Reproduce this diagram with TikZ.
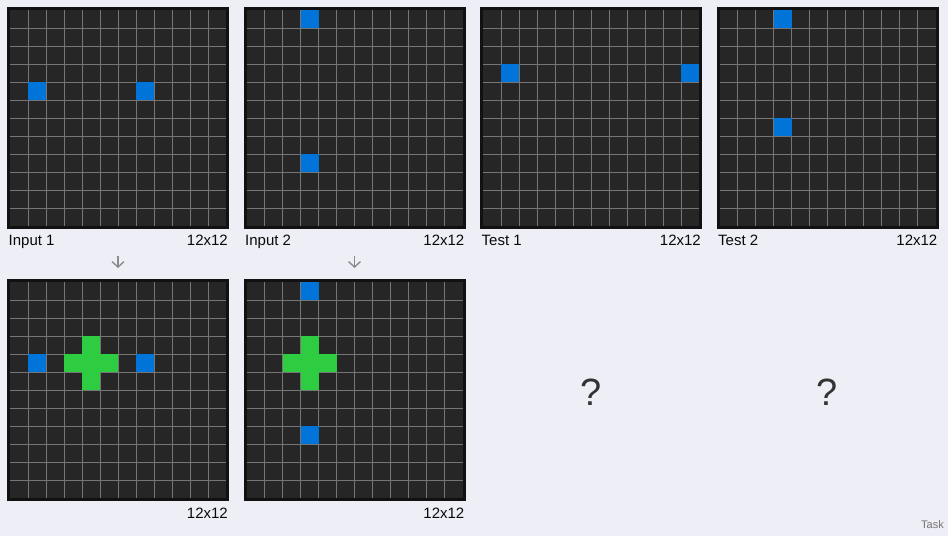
\documentclass[tikz,border=0pt]{standalone}
\usepackage{fontspec}
\setmainfont{Liberation Sans}
\usepackage{tikz}
\usetikzlibrary{arrows.meta}

\definecolor{pagebg}{RGB}{238,238,246}
\definecolor{cellbg}{RGB}{38,38,38}
\definecolor{gridrim}{RGB}{17,17,17}
\definecolor{gridln}{RGB}{118,118,118}
\definecolor{arcblue}{RGB}{0,116,217}
\definecolor{arcgreen}{RGB}{46,204,64}
\definecolor{txtc}{RGB}{10,10,10}

% one 12x12 board: #1 name, #2 centre
\newcommand\arcgrid[2]{%
  \node[gridbox] (#1) at (#2) {};
  \foreach \k in {1,...,11}{
    \draw[gridline] ([shift={(-108+18*\k,-108)}]#1.center) -- ([shift={(-108+18*\k,108)}]#1.center);
    \draw[gridline] ([shift={(-108,-108+18*\k)}]#1.center) -- ([shift={(108,-108+18*\k)}]#1.center);
  }
}
% one coloured cell: #1 board, #2 row, #3 column, #4 colour
\newcommand\arccell[4]{%
  \fill[#4] ([shift={(-108+18*#3,-108+18*#2)}]#1.center) rectangle ++(18,18);
}

\begin{document}
\begin{tikzpicture}[x=1pt,y=-1pt,
    gridbox/.style={draw=gridrim,fill=cellbg,line width=3pt,minimum size=219pt,inner sep=0pt},
    gridline/.style={draw=gridln,line width=0.9pt},
    lbl/.style={text=txtc,inner sep=0pt,font=\fontsize{15}{18}\selectfont},
    qmark/.style={text=black!80,inner sep=0pt,font=\fontsize{38}{40}\selectfont},
    flowarrow/.style={draw=black!45,line width=1.4pt,-{Straight Barb[length=5.5pt,width=12pt]},shorten <=27pt,shorten >=11pt}]
  \fill[pagebg] (0,0) rectangle (948,536);
  \useasboundingbox (0,0) rectangle (948,536);

  % boards
  \arcgrid{in1}{118,118}
  \arcgrid{in2}{354.5,118}
  \arcgrid{tst1}{591,118}
  \arcgrid{tst2}{827.5,118}
  \arcgrid{out1}{118,390}
  \arcgrid{out2}{354.5,390}

  % cells
  \arccell{in1}{4}{1}{arcblue} \arccell{in1}{4}{7}{arcblue}
  \arccell{out1}{4}{1}{arcblue} \arccell{out1}{4}{7}{arcblue}
  \arccell{out1}{3}{4}{arcgreen} \arccell{out1}{4}{3}{arcgreen}
  \arccell{out1}{4}{4}{arcgreen} \arccell{out1}{4}{5}{arcgreen}
  \arccell{out1}{5}{4}{arcgreen}
  \arccell{in2}{0}{3}{arcblue} \arccell{in2}{8}{3}{arcblue}
  \arccell{out2}{0}{3}{arcblue} \arccell{out2}{8}{3}{arcblue}
  \arccell{out2}{3}{3}{arcgreen} \arccell{out2}{4}{2}{arcgreen}
  \arccell{out2}{4}{3}{arcgreen} \arccell{out2}{4}{4}{arcgreen}
  \arccell{out2}{5}{3}{arcgreen}
  \arccell{tst1}{3}{1}{arcblue} \arccell{tst1}{3}{11}{arcblue}
  \arccell{tst2}{0}{3}{arcblue} \arccell{tst2}{6}{3}{arcblue}

  % labels
  \node[lbl,anchor=base west] (in1name) at ([shift={(1.5,16)}]in1.south west) {Input 1};
  \node[lbl,anchor=base east] (in1size) at ([shift={(-1,16)}]in1.south east) {12x12};
  \node[lbl,anchor=base west] (in2name) at ([shift={(1.5,16)}]in2.south west) {Input 2};
  \node[lbl,anchor=base east] (in2size) at ([shift={(-1,16)}]in2.south east) {12x12};
  \node[lbl,anchor=base west] (tst1name) at ([shift={(1.5,16)}]tst1.south west) {Test 1};
  \node[lbl,anchor=base east] (tst1size) at ([shift={(-1,16)}]tst1.south east) {12x12};
  \node[lbl,anchor=base west] (tst2name) at ([shift={(1.5,16)}]tst2.south west) {Test 2};
  \node[lbl,anchor=base east] (tst2size) at ([shift={(-1,16)}]tst2.south east) {12x12};
  \node[lbl,anchor=base east] (out1size) at ([shift={(-1,17)}]out1.south east) {12x12};
  \node[lbl,anchor=base east] (out2size) at ([shift={(-1,17)}]out2.south east) {12x12};

  % unknown outputs
  \node[qmark] (q1) at (591,392) {?};
  \node[qmark] (q2) at (827.5,392) {?};
  \node[text=black!55,inner sep=0pt,anchor=base east,font=\fontsize{11}{13}\selectfont] (taskname) at (944,528) {Task};

  \path[flowarrow] (in1) edge (out1)
    (in2) edge (out2);
\end{tikzpicture}
\end{document}
